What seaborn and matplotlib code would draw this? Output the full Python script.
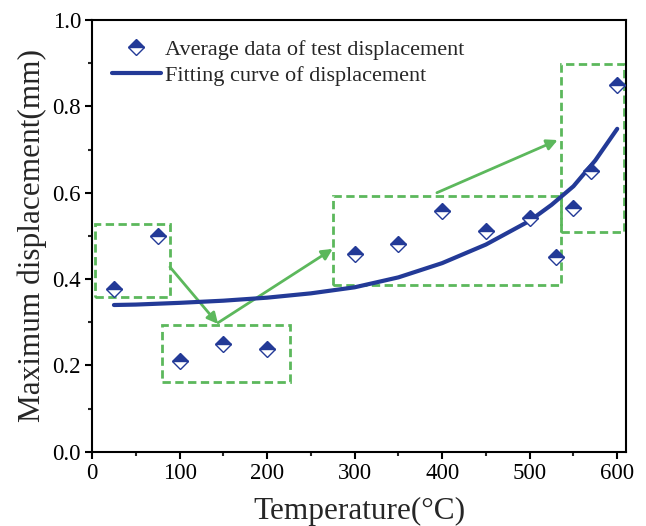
import matplotlib
matplotlib.use("Agg")
import matplotlib.pyplot as plt
import seaborn as sns
import pandas as pd
from matplotlib.ticker import MultipleLocator
from matplotlib.patches import Rectangle

sns.set_theme(style="ticks")
plt.rcParams['font.family'] = ['Liberation Serif', 'DejaVu Serif']
plt.rcParams['mathtext.fontset'] = 'stix'

# Test data
temps = [25, 75, 100, 150, 200, 300, 350, 400, 450, 500, 530, 550, 570, 600]
disp = [0.378, 0.500, 0.210, 0.250, 0.237, 0.457, 0.482, 0.557, 0.512, 0.541, 0.452, 0.565, 0.650, 0.850]

# Fitting curve
fit_t = [25, 50, 100, 150, 200, 250, 300, 350, 400, 450, 500, 525, 550, 575, 600]
fit_d = [0.340, 0.341, 0.345, 0.350, 0.357, 0.367, 0.381, 0.404, 0.437, 0.480, 0.535, 0.572, 0.615, 0.675, 0.748]

# Green dashed boxes: (x0, y0, x1, y1)
boxes = [(3, 0.359, 89, 0.528), (80, 0.162, 226, 0.294),
         (275, 0.387, 536, 0.593), (536, 0.509, 608, 0.898)]
# Arrows: (x_start, y_start, x_end, y_end)
arrows = [(89, 0.428, 144, 0.296), (144, 0.299, 275, 0.470), (394, 0.600, 532, 0.722)]

df = pd.DataFrame({"T": temps, "D": disp})
fit = pd.DataFrame({"T": fit_t, "D": fit_d})

blue = "#233a97"
green = "#5cb85c"

fig, ax = plt.subplots(figsize=(6.46, 5.26), dpi=100)
fig.subplots_adjust(left=0.1425, right=0.969, top=0.962, bottom=0.141)

sns.lineplot(data=fit, x="T", y="D", ax=ax, color=blue, linewidth=3,
             label="Fitting curve of displacement", zorder=3)
ax.plot(df["T"], df["D"], linestyle="none", marker="D", markersize=8,
        fillstyle="top", markerfacecolor=blue, markerfacecoloralt="white",
        markeredgecolor=blue, markeredgewidth=1.0, zorder=4,
        label="Average data of test displacement")

for x0, y0, x1, y1 in boxes:
    ax.add_patch(Rectangle((x0, y0), x1 - x0, y1 - y0, fill=False,
                           edgecolor=green, linestyle=(0, (3, 1.6)), linewidth=2, zorder=2))
for xs, ys, xe, ye in arrows:
    ax.annotate("", xy=(xe, ye), xytext=(xs, ys),
                arrowprops=dict(arrowstyle="-|>", color=green, lw=2,
                                mutation_scale=16, shrinkA=0, shrinkB=0), zorder=2)

ax.set_xlim(0, 610)
ax.set_ylim(0, 1.0)
ax.xaxis.set_major_locator(MultipleLocator(100))
ax.xaxis.set_minor_locator(MultipleLocator(50))
ax.yaxis.set_major_locator(MultipleLocator(0.2))
ax.yaxis.set_minor_locator(MultipleLocator(0.1))
ax.set_yticks([0.0, 0.2, 0.4, 0.6, 0.8, 1.0])
ax.set_yticklabels(["0.0", "0.2", "0.4", "0.6", "0.8", "1.0"])
ax.tick_params(which="major", direction="out", length=5, width=1.5, labelsize=16.5,
               colors="black", pad=3)
ax.tick_params(which="minor", direction="out", length=3, width=1.5)
for s in ax.spines.values():
    s.set_linewidth(1.5)
    s.set_color("black")
    s.set_visible(True)

ax.set_xlabel("Temperature(°C)", fontsize=22.5, labelpad=9)
ax.set_ylabel("Maximum displacement(mm)", fontsize=22.5, labelpad=4)

h, l = ax.get_legend_handles_labels()
ax.legend([h[1], h[0]], [l[1], l[0]], loc="upper left", frameon=False, fontsize=16,
          bbox_to_anchor=(0.02, 0.976), handlelength=2.2, handletextpad=0.2,
          labelspacing=0.25, borderaxespad=0, borderpad=0.4)

fig.savefig("out.png", dpi=100)
